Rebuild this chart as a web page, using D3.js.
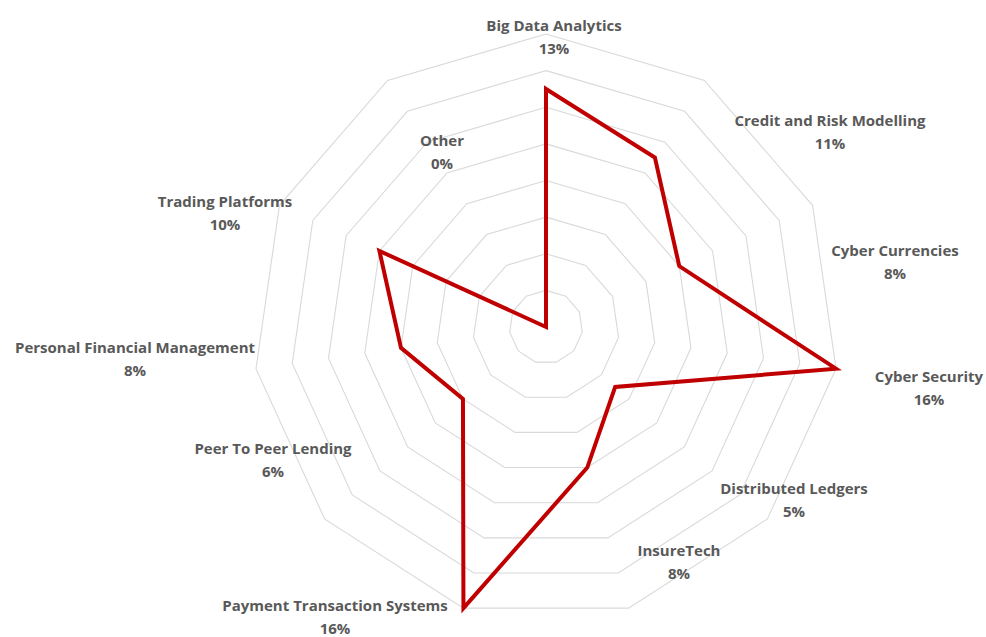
<!DOCTYPE html>
<html>
<head>
<meta charset="utf-8">
<script src="https://cdn.jsdelivr.net/npm/d3@7"></script>
<style>
  html, body { margin: 0; padding: 0; background: #ffffff; }
  svg { display: block; }
</style>
</head>
<body>
<svg id="chart" width="986" height="637"></svg>
<script>
// Share of FinTech focus areas
const categories = [
  "Big Data Analytics",
  "Credit and Risk Modelling",
  "Cyber Currencies",
  "Cyber Security",
  "Distributed Ledgers",
  "InsureTech",
  "Payment Transaction Systems",
  "Peer To Peer Lending",
  "Personal Financial Management",
  "Trading Platforms",
  "Other"
];
const shares = [13, 11, 8, 16, 5, 8, 16, 6, 8, 10, 0];
const ringTicks = [2, 4, 6, 8, 10, 12, 14, 16];

// Label block centres, relative to the chart centre (layout only)
const labelOffsets = [
  [8, -290], [284, -195], [349, -65], [383, 61], [248, 173], [133, 235],
  [-211, 290], [-273, 133], [-411, 32], [-321, -114], [-104, -175]
];

const width = 986, height = 637;
const cx = 546, cy = 327;

const svg = d3.select("#chart");
const g = svg.append("g").attr("transform", `translate(${cx},${cy})`);

const angle = d3.scaleLinear()
  .domain([0, categories.length])
  .range([0, 2 * Math.PI]);

const radius = d3.scaleLinear()
  .domain([0, d3.max(ringTicks)])
  .range([0, 293]);

// Concentric polygon gridlines
const ringLine = d3.lineRadial()
  .angle((d, i) => angle(i))
  .radius(d => radius(d))
  .curve(d3.curveLinearClosed);

g.append("g")
  .attr("class", "grid")
  .selectAll("path")
  .data(ringTicks)
  .join("path")
  .attr("d", t => ringLine(categories.map(() => t)))
  .attr("fill", "none")
  .attr("stroke", "#d9d9d9")
  .attr("stroke-width", 1.1);

// Data series
const seriesLine = d3.lineRadial()
  .angle((d, i) => angle(i))
  .radius(d => radius(d))
  .curve(d3.curveLinearClosed);

g.append("path")
  .datum(shares)
  .attr("d", seriesLine)
  .attr("fill", "none")
  .attr("stroke", "#c00000")
  .attr("stroke-width", 4)
  .attr("stroke-linejoin", "miter")
  .attr("stroke-miterlimit", 10);

// Category + value labels
const labels = g.append("g")
  .attr("class", "labels")
  .attr("font-family", "'Open Sans', 'Noto Sans', sans-serif")
  .attr("font-weight", 700)
  .attr("font-size", 15)
  .attr("fill", "#595959")
  .attr("text-anchor", "middle");

const lab = labels.selectAll("g")
  .data(categories)
  .join("g")
  .attr("transform", (d, i) => `translate(${labelOffsets[i][0]},${labelOffsets[i][1]})`);

lab.append("text")
  .attr("y", -11.5)
  .attr("dy", "0.35em")
  .text(d => d);

lab.append("text")
  .attr("y", 11.5)
  .attr("dy", "0.35em")
  .text((d, i) => `${shares[i]}%`);
</script>
</body>
</html>
